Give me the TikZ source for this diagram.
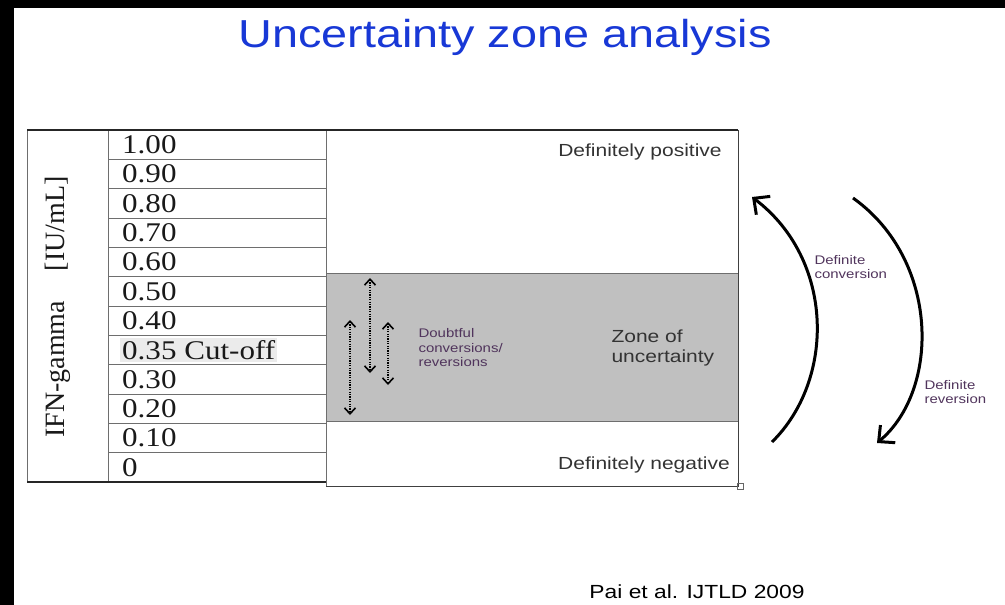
\documentclass[tikz,border=0pt]{standalone}
\usepackage{fontspec}
\setmainfont{Liberation Serif}
\newfontfamily\slidefont[FakeStretch=1.2]{Liberation Sans}
\newfontfamily\tablefont[FakeStretch=1.15]{Liberation Serif}
\usepackage{tikz}
\usetikzlibrary{arrows.meta}
\definecolor{titleblue}{RGB}{24,56,214}
\definecolor{zonegray}{RGB}{192,192,192}
\definecolor{notepurple}{RGB}{80,52,92}
\definecolor{rulegray}{RGB}{110,110,110}
\tikzset{
  value/.style={anchor=west,inner sep=2pt,font=\tablefont\fontsize{27}{29}\selectfont,text=black!90},
  zonelabel/.style={align=left,font=\slidefont\fontsize{17.5}{20}\selectfont,text=black!80},
  note/.style={align=left,font=\slidefont\fontsize{12.5}{14.5}\selectfont,text=notepurple},
  flip/.style={dash pattern=on 1.2pt off 1.2pt,line width=1.6pt,{Straight Barb[length=6pt,width=11pt]}-{Straight Barb[length=6pt,width=11pt]}},
  swing/.style={line width=3pt,-{Straight Barb[length=12pt,width=23pt]}},
}
\begin{document}
\begin{tikzpicture}[x=1pt,y=1pt,yscale=-1,xscale=1]
\useasboundingbox (0,0) rectangle (1005,605);
% slide edges
\fill[black] (0,0) rectangle (1005,8);
\fill[black] (0,0) rectangle (14,605);

\node (title) at (505,37) [font=\slidefont\fontsize{39}{44}\selectfont,text=titleblue] {Uncertainty zone analysis};

% zones
\fill[zonegray] (326,273) rectangle (738,421);
\draw[rulegray,line width=0.8pt] (326,273) -- (738,273) (326,421) -- (738,421);
\draw[black!75,line width=0.8pt] (326,130) -- (738,130) -- (738,486) -- (326,486);
\draw[black!60,line width=0.6pt] (737,483) rectangle (743,489);

% table
\draw[rulegray,line width=0.7pt] (27,130) -- (27,482) (108,130) -- (108,482) (326,130) -- (326,486);
\foreach \i in {1,...,11}
  \draw[rulegray,line width=0.7pt] (108,130+29.33*\i) -- (326,130+29.33*\i);
\draw[black!85,line width=2pt] (27,130) -- (738,130);
\draw[black!85,line width=2pt] (27,482) -- (326,482);

\foreach \v/\f [count=\i from 0] in {1.00/none,0.90/none,0.80/none,0.70/none,0.60/none,0.50/none,0.40/none,0.35 Cut-off/black!8,0.30/none,0.20/none,0.10/none,0/none}
  \node[value,fill=\f] (v\i) at (120,144.7+29.33*\i) {\v};

\node (axis) at (58,307) [rotate=90,font=\fontsize{28}{30}\selectfont,text=black!90] {IFN-gamma\hspace{30pt}[IU/mL]};

% labels
\node[zonelabel] (pos) at (640,152) {Definitely positive};
\node[zonelabel] (neg) at (644,465) {Definitely negative};
\node[zonelabel,anchor=west] (zone) at (608,348) {Zone of\\uncertainty};
\node[note,anchor=west] (doubt) at (415,348) {Doubtful\\conversions/\\reversions};
\node[note,anchor=west] (conv) at (811,267) {Definite\\conversion};
\node[note,anchor=west] (rev) at (921,392) {Definite\\reversion};
\node (ref) at (697,592) [font=\slidefont\fontsize{19}{22}\selectfont] {Pai et al. IJTLD 2009};

% doubtful flips
\coordinate (flipAtop) at (350,320);
\coordinate (flipAbot) at (350,415);
\coordinate (flipBtop) at (370,278);
\coordinate (flipBbot) at (370,373);
\coordinate (flipCtop) at (388,322);
\coordinate (flipCbot) at (388,385);
\draw[flip] (flipAtop) -- (flipAbot);
\draw[flip] (flipBtop) -- (flipBbot);
\draw[flip] (flipCtop) -- (flipCbot);

% definite changes
\coordinate (convfrom) at (772,442);
\coordinate (convto) at (752,197);
\coordinate (revfrom) at (853,198);
\coordinate (revto) at (877,443);
\draw[swing] (convfrom) .. controls (835,380) and (835,260) .. (convto);
\draw[swing] (revfrom) .. controls (940,260) and (940,390) .. (revto);
\end{tikzpicture}
\end{document}
